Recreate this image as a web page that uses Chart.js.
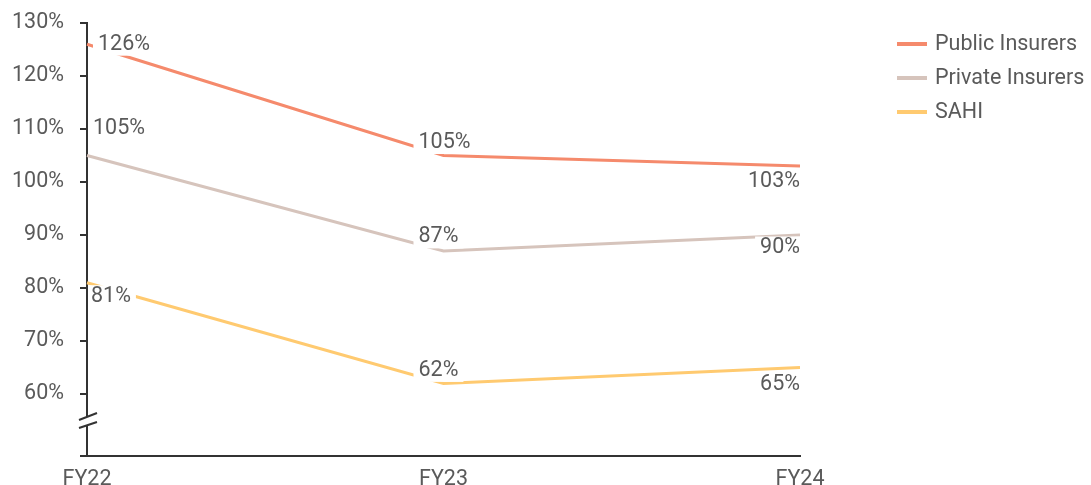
<!DOCTYPE html>
<html>
<head>
<meta charset="utf-8">
<script src="https://cdn.jsdelivr.net/npm/chart.js@4.4.1/dist/chart.umd.min.js"></script>
<style>
  html, body { margin: 0; padding: 0; background: #fff; }
  #wrap { width: 1091px; height: 485px; position: relative; }
</style>
</head>
<body>
<div id="wrap"><canvas id="canvas"></canvas></div>
<script>
const categories = ['FY22', 'FY23', 'FY24']
const seriesNames = ['Public Insurers', 'Private Insurers', 'SAHI']
const publicInsurers = [126, 105, 103]
const privateInsurers = [105, 87, 90]
const sahi = [81, 62, 65]
const yTicks = [60, 70, 80, 90, 100, 110, 120, 130]
const yMin = 48.3
const yMax = 130

const colors = ['#f58a6c', '#d6c4bc', '#ffca70']
const textColor = '#5a5a5a'
const axisColor = '#333333'
const fontFamily = 'Roboto, "Noto Sans", sans-serif'
const fontSize = 21.5

// where each value label sits relative to its point: [dx, dy, align]
const labelPlacement = [
  [[11, 0, 'left'], [-25, -13, 'left'], [0, 16, 'right']],
  [[6, -27, 'left'], [-25, -14, 'left'], [0, 13, 'right']],
  [[4, 14, 'left'], [-25, -13, 'left'], [0, 17, 'right']]
]

const valueLabels = {
  id: 'valueLabels',
  afterDatasetsDraw(chart) {
    const c = chart.ctx
    const area = chart.chartArea
    c.save()
    c.font = fontSize + 'px ' + fontFamily
    c.textBaseline = 'middle'
    chart.data.datasets.forEach((ds, i) => {
      const meta = chart.getDatasetMeta(i)
      meta.data.forEach((pt, j) => {
        const [dx, dy, align] = labelPlacement[i][j]
        const txt = ds.data[j] + '%'
        const w = c.measureText(txt).width
        const left = align === 'left' ? pt.x + dx : pt.x + dx - w
        const y = pt.y + dy
        let bx = left - 5
        if (bx < area.left + 2) bx = area.left + 2
        c.fillStyle = '#ffffff'
        c.fillRect(bx, y - 11.5, left + w + 5 - bx, 23)
        c.fillStyle = textColor
        c.textAlign = 'left'
        c.fillText(txt, left, y)
      })
    })
    c.restore()
  }
}

const axisBreak = {
  id: 'axisBreak',
  afterDraw(chart) {
    const c = chart.ctx
    const x = chart.chartArea.left
    const b = chart.chartArea.bottom
    c.save()
    c.fillStyle = '#ffffff'
    c.fillRect(x - 3, b - 39, 6, 8)
    c.strokeStyle = axisColor
    c.lineWidth = 2
    c.beginPath()
    c.moveTo(x - 8, b - 36)
    c.lineTo(x + 10, b - 43)
    c.moveTo(x - 8, b - 28)
    c.lineTo(x + 10, b - 34)
    c.stroke()
    c.restore()
  }
}

const sideLegend = {
  id: 'sideLegend',
  afterDraw(chart) {
    const c = chart.ctx
    c.save()
    c.font = fontSize + 'px ' + fontFamily
    c.textBaseline = 'middle'
    c.textAlign = 'left'
    chart.data.datasets.forEach((ds, i) => {
      const y = 44 + i * 34
      c.strokeStyle = ds.borderColor
      c.lineWidth = 4
      c.beginPath()
      c.moveTo(897, y)
      c.lineTo(927, y)
      c.stroke()
      c.fillStyle = textColor
      c.fillText(ds.label, 935, y + 1)
    })
    c.restore()
  }
}

const seriesData = [publicInsurers, privateInsurers, sahi]

new Chart(document.getElementById('canvas'), {
  type: 'line',
  data: {
    labels: categories,
    datasets: seriesNames.map((name, i) => ({
      label: name,
      data: seriesData[i],
      borderColor: colors[i],
      backgroundColor: colors[i],
      borderWidth: 3,
      pointRadius: 0,
      tension: 0
    }))
  },
  options: {
    responsive: true,
    maintainAspectRatio: false,
    animation: false,
    layout: { padding: { left: -4, right: 291, top: 23, bottom: 0 } },
    plugins: {
      legend: { display: false },
      tooltip: { enabled: false }
    },
    scales: {
      x: {
        offset: false,
        afterFit: scale => { scale.height = 29 },
        grid: { display: false, drawTicks: false },
        border: { color: axisColor, width: 2 },
        ticks: { color: textColor, font: { family: fontFamily, size: fontSize }, padding: 11, maxRotation: 0 }
      },
      y: {
        min: yMin,
        max: yMax,
        afterBuildTicks: scale => { scale.ticks = [yMin].concat(yTicks).map(v => ({ value: v })) },
        afterFit: scale => { scale.paddingTop = 0; scale.paddingBottom = 0 },
        grid: { drawOnChartArea: false, tickLength: 7, color: axisColor, lineWidth: 2 },
        border: { color: axisColor, width: 2 },
        ticks: {
          color: textColor,
          font: { family: fontFamily, size: fontSize },
          padding: 16,
          callback: v => yTicks.includes(v) ? v + '%' : ''
        }
      }
    }
  },
  plugins: [valueLabels, axisBreak, sideLegend]
})
</script>
</body>
</html>
